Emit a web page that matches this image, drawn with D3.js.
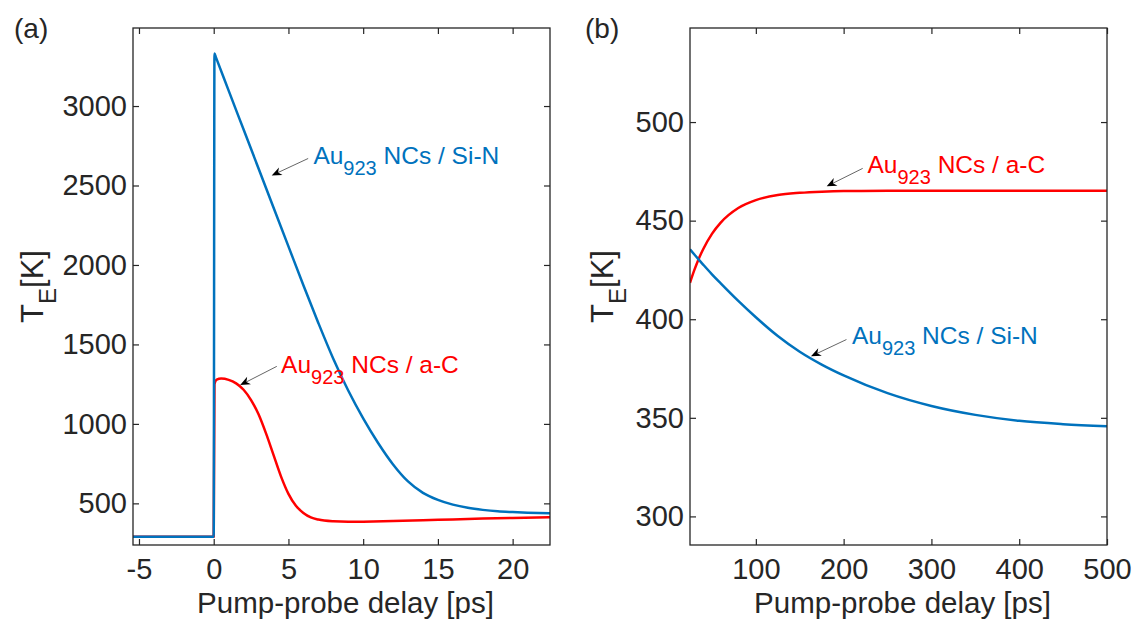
<!DOCTYPE html>
<html>
<head>
<meta charset="utf-8">
<title>Electron temperature vs pump-probe delay</title>
<script src="https://d3js.org/d3.v7.min.js"></script>
<style>
  body { margin: 0; background: #fff; }
  text { font-family: "Liberation Sans", Arial, Helvetica, sans-serif; fill: #262626; }
</style>
</head>
<body>
<div id="chart"></div>
<script>
// ---- values ----
// (a) short delays, ps / K
var leftSiNTime = [-5.4, -0.02, 0, 0.05, 0.15, 1, 2, 3, 4, 5, 6, 7, 8, 9, 10, 11, 12, 13, 14, 15, 16, 17, 18, 19, 20, 21, 22.5];
var leftSiNTemp = [290, 290, 290, 3330, 3306, 3097, 2852, 2607, 2362, 2117, 1872, 1635, 1410, 1210, 1035, 880, 745, 638, 566, 522, 492, 472, 459, 450, 445, 441, 437];
var leftACTime  = [-5.4, 0, 0.05, 0.2, 0.5, 1, 1.5, 2, 2.5, 3, 3.5, 4, 4.5, 5, 5.5, 6, 6.5, 7, 8, 9, 10, 12, 14, 16, 18, 20, 22.5];
var leftACTemp  = [290, 290, 1250, 1278, 1285, 1277, 1255, 1215, 1150, 1060, 940, 805, 670, 560, 485, 440, 412, 398, 387, 384, 385, 389, 394, 399, 404, 408, 412];

// (b) long delays, ps / K
var rightTime = [25, 30, 35, 40, 50, 60, 80, 100, 125, 150, 175, 200, 250, 300, 350, 400, 450, 500];
var rightSiN  = [435.5, 432.8, 430.2, 427.7, 422.8, 418.2, 409.3, 401, 391.5, 383.5, 377, 371.5, 362.5, 356, 351.5, 348.5, 346.8, 345.7];
var rightAC   = [418.5, 425, 430.7, 435.5, 443.3, 449, 456.4, 460.4, 463, 464.1, 464.7, 465, 465.1, 465.2, 465.2, 465.2, 465.2, 465.2];

var leftXTicks  = [-5, 0, 5, 10, 15, 20];
var leftYTicks  = [500, 1000, 1500, 2000, 2500, 3000];
var rightXTicks = [100, 200, 300, 400, 500];
var rightYTicks = [300, 350, 400, 450, 500];

// annotations: tail/tip/text in data units
var leftNotes = [
  {name: "Si-N", tip: [3.88, 2563], tail: [6.32, 2670], text: [6.67, 2635]},
  {name: "a-C",  tip: [1.77, 1244], tail: [4.22, 1362], text: [4.51, 1320]}
];
var rightNotes = [
  {name: "a-C",  tip: [180.7, 467.4], tail: [221.7, 476.5], text: [227.2, 474.1]},
  {name: "Si-N", tip: [162.8, 381.2], tail: [203.2, 389.7], text: [209.5, 387.3]}
];

var colors = {"Si-N": "#0072BD", "a-C": "#FF0000"};

var W = 1139, H = 621, plotTop = 28, plotBottom = 545;

var svg = d3.select("#chart").append("svg")
    .attr("width", W)
    .attr("height", H);

var panels = [
  {id: "a", x0: 133, x1: 550, xDomain: [-5.4, 22.5], yDomain: [238, 3491],
   xTicks: leftXTicks, yTicks: leftYTicks, labelX: 14, yLabelX: 43,
   series: [
     {name: "a-C", t: leftACTime, v: leftACTemp},
     {name: "Si-N", t: leftSiNTime, v: leftSiNTemp}
   ], notes: leftNotes},
  {id: "b", x0: 690, x1: 1107, xDomain: [25, 500], yDomain: [285.5, 547.7],
   xTicks: rightXTicks, yTicks: rightYTicks, labelX: 585, yLabelX: 613,
   series: [
     {name: "a-C", t: rightTime, v: rightAC},
     {name: "Si-N", t: rightTime, v: rightSiN}
   ], notes: rightNotes}
];

panels.forEach(drawPanel);

function drawPanel(p) {
  var x = d3.scaleLinear().domain(p.xDomain).range([p.x0, p.x1]);
  var y = d3.scaleLinear().domain(p.yDomain).range([plotBottom, plotTop]);
  var g = svg.append("g");

  // clip
  g.append("clipPath").attr("id", "clip-" + p.id)
    .append("rect")
      .attr("x", p.x0).attr("y", plotTop)
      .attr("width", p.x1 - p.x0).attr("height", plotBottom - plotTop);

  // axes, ticks pointing inward on all 4 sides (plain hyphen for minus)
  var fmt = function(d) { return String(d); };
  g.append("g").attr("transform", "translate(0," + plotBottom + ")")
    .call(d3.axisBottom(x).tickValues(p.xTicks).tickSize(-6).tickSizeOuter(0).tickPadding(13).tickFormat(fmt));
  g.append("g").attr("transform", "translate(0," + plotTop + ")")
    .call(d3.axisTop(x).tickValues(p.xTicks).tickSize(-6).tickSizeOuter(0).tickFormat(""));
  g.append("g").attr("transform", "translate(" + p.x0 + ",0)")
    .call(d3.axisLeft(y).tickValues(p.yTicks).tickSize(-6).tickSizeOuter(0).tickPadding(6).tickFormat(fmt));
  g.append("g").attr("transform", "translate(" + p.x1 + ",0)")
    .call(d3.axisRight(y).tickValues(p.yTicks).tickSize(-6).tickSizeOuter(0).tickFormat(""));

  g.selectAll(".domain").remove();
  g.selectAll(".tick line").attr("stroke", "#262626").attr("stroke-width", 1.2);
  g.selectAll(".tick text").attr("font-size", 29).attr("fill", "#262626")
    .style("font-family", '"Liberation Sans", Arial, sans-serif');

  // lines
  var line = d3.line()
    .x(function(d) { return x(d[0]); })
    .y(function(d) { return y(d[1]); })
    .curve(d3.curveMonotoneX);

  var plot = g.append("g").attr("clip-path", "url(#clip-" + p.id + ")");
  p.series.forEach(function(s) {
    plot.append("path")
      .datum(d3.zip(s.t, s.v))
      .attr("fill", "none")
      .attr("stroke", colors[s.name])
      .attr("stroke-width", 2.5)
      .attr("stroke-linejoin", "round")
      .attr("d", line);
  });

  // box
  g.append("rect")
    .attr("x", p.x0).attr("y", plotTop)
    .attr("width", p.x1 - p.x0).attr("height", plotBottom - plotTop)
    .attr("fill", "none").attr("stroke", "#262626").attr("stroke-width", 1.3);

  // axis labels
  g.append("text")
    .attr("x", (p.x0 + p.x1) / 2 + 4).attr("y", 613)
    .attr("text-anchor", "middle").attr("font-size", 29.5)
    .text("Pump-probe delay [ps]");

  var yl = g.append("text")
    .attr("transform", "translate(" + p.yLabelX + "," + (plotTop + plotBottom) / 2 + ") rotate(-90)")
    .attr("text-anchor", "middle").attr("font-size", 31);
  yl.append("tspan").text("T");
  yl.append("tspan").attr("font-size", 24).attr("dy", 13).text("E");
  yl.append("tspan").attr("dy", -13).text("[K]");

  // panel letter
  g.append("text").attr("x", p.labelX).attr("y", 38)
    .attr("font-size", 28).text("(" + p.id + ")");

  // annotations
  p.notes.forEach(function(n) {
    var x1 = x(n.tail[0]), y1 = y(n.tail[1]);
    var x2 = x(n.tip[0]), y2 = y(n.tip[1]);
    var ang = Math.atan2(y2 - y1, x2 - x1);
    var len = 10, hw = 4.2;
    var bx = x2 - len * Math.cos(ang), by = y2 - len * Math.sin(ang);
    var nx = x2 - 0.7 * len * Math.cos(ang), ny = y2 - 0.7 * len * Math.sin(ang);
    var px = -Math.sin(ang), py = Math.cos(ang);

    g.append("line")
      .attr("x1", x1).attr("y1", y1).attr("x2", nx).attr("y2", ny)
      .attr("stroke", "#555").attr("stroke-width", 0.9);
    g.append("path")
      .attr("d", "M" + x2 + "," + y2 +
                 "L" + (bx + hw * px) + "," + (by + hw * py) +
                 "L" + nx + "," + ny +
                 "L" + (bx - hw * px) + "," + (by - hw * py) + "Z")
      .attr("fill", "#000");

    var t = g.append("text")
      .attr("x", x(n.text[0])).attr("y", y(n.text[1]))
      .attr("font-size", 24.5)
      .style("fill", colors[n.name]);
    t.append("tspan").text("Au");
    t.append("tspan").attr("font-size", 20).attr("dy", 11).text("923");
    t.append("tspan").attr("dy", -11).text(" NCs / " + n.name);
  });
}
</script>
</body>
</html>
